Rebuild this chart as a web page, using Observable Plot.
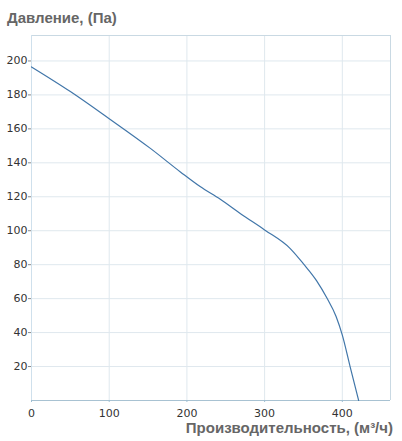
<!DOCTYPE html>
<html>
<head>
<meta charset="utf-8">
<script src="https://cdn.jsdelivr.net/npm/d3@7"></script>
<script src="https://cdn.jsdelivr.net/npm/@observablehq/plot@0.6"></script>
<style>
  html, body { margin: 0; padding: 0; background: #fff; }
  body { width: 402px; height: 441px; overflow: hidden; font-family: "DejaVu Sans", Verdana, sans-serif; }
  .title { height: 30px; position: relative; }
  .title span { position: absolute; left: 7px; top: 9px; font: bold 15px "Liberation Sans", Arial, sans-serif; color: #666; white-space: nowrap; }
  .caption { height: 21px; position: relative; }
  .caption span { position: absolute; right: 9px; top: -1px; font: bold 15px "Liberation Sans", Arial, sans-serif; color: #666; white-space: nowrap; }
  svg { display: block; }
</style>
</head>
<body>
<div class="title"><span id="ytitle"></span></div>
<div id="chart"></div>
<div class="caption"><span id="xtitle"></span></div>
<script>
const yTitle = "Давление, (Па)";
const xTitle = "Производительность, (м³/ч)";
const flow = [0, 50, 100, 153, 192, 217, 243, 269, 300, 333, 350, 367, 380, 392, 400, 410, 421];
const pressure = [196.5, 182, 166, 148.5, 134.5, 126, 118.5, 110, 100.5, 89.5, 80.5, 70.5, 60.5, 49.5, 38.5, 20, 0];
const xTicks = [0, 100, 200, 300, 400];
const yTicks = [20, 40, 60, 80, 100, 120, 140, 160, 180, 200];
const xMax = 462;
const yMax = 215;

document.getElementById("ytitle").textContent = yTitle;
document.getElementById("xtitle").textContent = xTitle;

const data = flow.map((q, i) => ({q, p: pressure[i]}));

const gridColor = "#dfe8ee";
const chart = Plot.plot({
  width: 402,
  height: 390,
  marginLeft: 31,
  marginRight: 12,
  marginTop: 5,
  marginBottom: 20,
  style: {fontFamily: "DejaVu Sans, Verdana, sans-serif", fontSize: "11px", color: "#333", background: "#fff"},
  x: {domain: [0, xMax], ticks: xTicks, tickFormat: d => String(d), label: null},
  y: {domain: [0, yMax], ticks: yTicks, tickFormat: d => String(d), label: null},
  marks: [
    Plot.gridX(xTicks.filter(d => d > 0), {stroke: gridColor, strokeOpacity: 1}),
    Plot.gridY(yTicks, {stroke: gridColor, strokeOpacity: 1}),
    Plot.ruleX([xMax], {stroke: "#c9d9e3"}),
    Plot.ruleY([yMax], {stroke: "#c9d9e3"}),
    Plot.ruleX([0], {stroke: "#cfe0ec"}),
    Plot.ruleY([0], {stroke: "#a8c2d2"}),
    Plot.axisX({ticks: xTicks, tickSize: 2, tickPadding: 7, stroke: "#9fbfd3", fill: "#333", label: null}),
    Plot.axisY({ticks: yTicks, tickSize: 3, tickPadding: 1, stroke: "#888", fill: "#333", label: null}),
    Plot.line(data, {x: "q", y: "p", stroke: "#4176a9", strokeWidth: 1.2, curve: "monotone-x"})
  ]
});
document.getElementById("chart").appendChild(chart);
</script>
</body>
</html>
